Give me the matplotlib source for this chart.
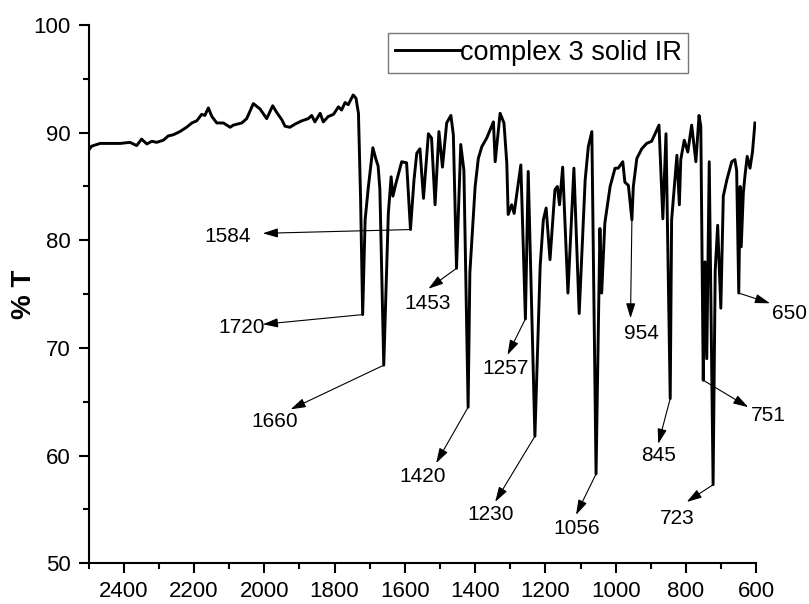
import matplotlib
matplotlib.use("Agg")
import matplotlib.pyplot as plt
from matplotlib.ticker import MultipleLocator
import numpy as np

plt.rcParams['font.family'] = ['Liberation Sans', 'DejaVu Sans']

# IR spectrum of complex 3 (solid), wavenumber in cm-1, transmittance in %
wavenumber = [
    2499, 2491, 2467, 2439, 2410, 2382, 2363, 2349, 2334, 2320, 2306, 2287,
    2273, 2259, 2240, 2221, 2206, 2192, 2178, 2169, 2159, 2149, 2135, 2116,
    2097, 2088, 2064, 2050, 2031, 2012, 1993, 1976, 1965, 1950, 1941, 1927,
    1912, 1893, 1875, 1865, 1856, 1841, 1832, 1818, 1803, 1789, 1780, 1770,
    1761, 1747, 1739, 1732, 1726,
    1720, 1713, 1704, 1691, 1682, 1676, 1671,
    1660, 1647, 1639, 1634, 1626, 1609, 1595,
    1584, 1574, 1566, 1557, 1547, 1533, 1524, 1514, 1503, 1493, 1481, 1469, 1462,
    1453, 1441, 1432,
    1420, 1415, 1400, 1391, 1381, 1367, 1353, 1348, 1343, 1329, 1318, 1310,
    1306, 1296, 1289, 1282, 1270,
    1257, 1249,
    1230, 1215, 1206, 1198, 1187, 1173, 1166, 1160, 1151, 1136, 1119, 1104,
    1087, 1078, 1068,
    1056, 1045, 1040, 1031, 1016, 1002, 993, 980, 974, 964,
    954, 950, 940, 926, 912, 898, 888, 877, 866, 857,
    845, 841, 826, 819, 815, 805, 795, 784, 772, 763, 758,
    751, 746, 741, 734,
    723, 717, 710, 701, 694, 684, 670, 661, 656,
    650, 646, 643, 637, 632, 626, 618, 611, 604,
]
transmittance = [
    88.4, 88.75, 89.0, 89.0, 89.0, 89.1, 88.8, 89.4, 88.95, 89.2, 89.1, 89.3,
    89.7, 89.8, 90.1, 90.5, 90.9, 91.1, 91.7, 91.6, 92.3, 91.5, 90.9, 90.9,
    90.5, 90.7, 90.9, 91.3, 92.7, 92.2, 91.3, 92.5, 91.9, 91.2, 90.6, 90.5,
    90.8, 91.1, 91.3, 91.6, 91.0, 91.8, 91.0, 91.5, 91.7, 92.4, 92.1, 92.8,
    92.6, 93.5, 93.2, 91.8, 84.0,
    73.1, 81.9, 84.9, 88.6, 87.5, 86.9, 84.7,
    68.4, 82.5, 85.9, 84.1, 85.2, 87.3, 87.2,
    81.0, 85.6, 88.1, 88.5, 83.9, 89.9, 89.5, 83.3, 90.1, 86.8, 90.9, 91.6, 89.8,
    77.4, 88.9, 86.5,
    64.5, 77.0, 85.0, 87.6, 88.7, 89.5, 90.6, 91.0, 87.3, 91.8, 90.9, 87.2,
    82.4, 83.3, 82.5, 84.2, 87.0,
    72.7, 86.4,
    61.8, 77.6, 81.9, 83.0, 78.2, 84.7, 85.0, 83.3, 86.8, 75.1, 86.7, 73.2,
    85.6, 88.7, 90.1,
    58.3, 81.1, 75.1, 81.6, 85.0, 86.7, 86.7, 87.3, 85.4, 85.1,
    81.9, 85.0, 87.6, 88.5, 89.0, 89.2, 89.9, 90.7, 82.0, 89.9,
    65.3, 81.9, 87.9, 83.3, 87.5, 89.3, 88.2, 90.7, 87.3, 91.6, 90.6,
    67.0, 78.0, 69.0, 87.3,
    57.3, 77.2, 81.4, 73.7, 84.1, 85.6, 87.3, 87.5, 86.5,
    75.1, 85.0, 79.4, 84.4, 86.1, 87.8, 86.7, 88.2, 90.9,
]

# assigned bands
peak_labels = [1720, 1660, 1584, 1453, 1420, 1257, 1230, 1056, 954, 845, 751, 723, 650]

# label centre and arrow tip for each band, in data units
label_layout = {
    1720: ((2064, 71.9), (2004, 72.2)),
    1660: ((1969, 63.2), (1925, 64.3)),
    1584: ((2105, 80.35), (2004, 80.65)),
    1453: ((1535, 74.1), (1533, 75.5)),
    1420: ((1548, 58.1), (1511, 59.3)),
    1257: ((1313, 68.1), (1308, 69.35)),
    1230: ((1357, 54.5), (1343, 55.7)),
    1056: ((1112, 53.2), (1113, 54.5)),
    954: ((926, 71.3), (958, 72.75)),
    845: ((879, 60.0), (879, 61.1)),
    751: ((567, 63.7), (623, 64.5)),
    723: ((824, 54.2), (798, 55.7)),
    650: ((507, 73.2), (561, 74.15)),
}

wn = np.array(wavenumber, dtype=float)
tr = np.array(transmittance, dtype=float)

fig = plt.figure(figsize=(8.09, 6.04), dpi=100)
ax = fig.add_axes([0.1094, 0.0674, 0.8255, 0.8912])

ax.plot(wn, tr, color='black', lw=2.1, solid_joinstyle='round',
        label='complex 3 solid IR')

for p in peak_labels:
    t = np.interp(p, wn[::-1], tr[::-1])
    (tx, ty), (hx, hy) = label_layout[p]
    ax.annotate('', xy=(hx, hy), xytext=(p, t), annotation_clip=False,
                arrowprops=dict(arrowstyle='-|>,head_length=0.65,head_width=0.2',
                                color='black', lw=0.8, shrinkA=0, shrinkB=0,
                                mutation_scale=14))
    ax.text(tx, ty, str(p), fontsize=15, ha='center', va='center',
            clip_on=False)

ax.set_xlim(2500, 600)
ax.set_ylim(50, 100)
ax.xaxis.set_major_locator(MultipleLocator(200))
ax.xaxis.set_minor_locator(MultipleLocator(100))
ax.yaxis.set_major_locator(MultipleLocator(10))
ax.yaxis.set_minor_locator(MultipleLocator(5))

for side in ['top', 'right']:
    ax.spines[side].set_visible(False)
for side in ['left', 'bottom']:
    ax.spines[side].set_linewidth(1.5)

ax.tick_params(which='major', direction='out', length=7, width=1.5,
               labelsize=16, pad=6)
ax.tick_params(which='minor', direction='out', length=4.5, width=1.5)

ax.set_ylabel('% T', fontsize=20, fontweight='bold', labelpad=-3)

leg = ax.legend(loc='upper left', bbox_to_anchor=(0.4485, 0.985),
                borderaxespad=0, fontsize=19.5, handlelength=2.4,
                handletextpad=0.0, borderpad=0.25, fancybox=False,
                framealpha=1, edgecolor='#777777')
leg.get_frame().set_linewidth(1.0)

fig.savefig('out.png', dpi=100)
